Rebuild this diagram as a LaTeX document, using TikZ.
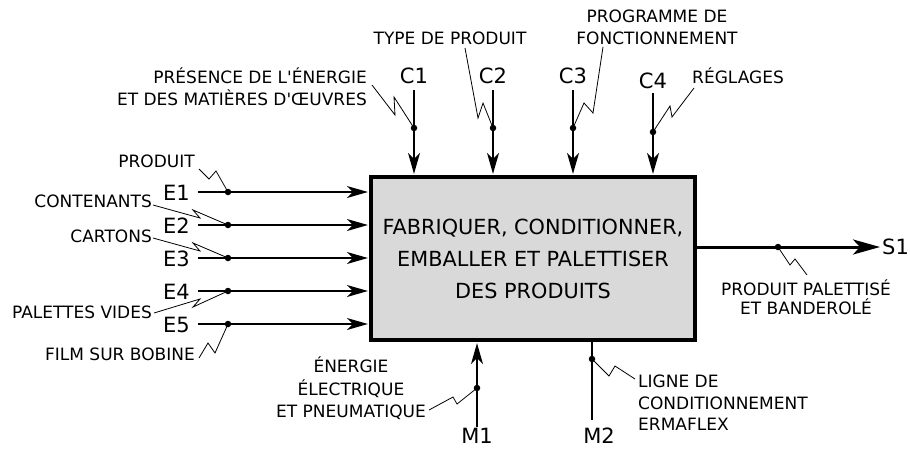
\documentclass[tikz,border=0pt]{standalone}
\usepackage{fontspec}
\setmainfont{DejaVu Sans}[Ligatures=TeXOff]
\usetikzlibrary{arrows.meta}
\begin{document}
\begin{tikzpicture}[x=1pt,y=-1pt,
  lbl/.style={font=\fontsize{17}{21}\selectfont, inner sep=0pt},
  icom/.style={font=\fontsize{21}{24}\selectfont, inner sep=0pt},
  arr/.style={line width=1.6pt, -{Stealth[length=21pt,width=12pt,inset=6pt]}, shorten >=1.5pt},
  outarr/.style={line width=3pt, -{Stealth[length=27pt,width=15pt,inset=7pt]}},
  sq/.style={line width=0.8pt, line join=miter},
  pt/.style={circle, fill=black, inner sep=0pt, minimum size=6.5pt},
  box/.style={draw, line width=3.2pt, fill=black!15, minimum width=324pt, minimum height=163pt,
    font=\fontsize{20.8}{32}\selectfont, align=center, inner sep=0pt}]
\useasboundingbox (0,0) rectangle (910,448);

% activity box
\node[box] (P) at (533,258.5) {FABRIQUER, CONDITIONNER,\\EMBALLER ET PALETTISER\\DES PRODUITS};

% inputs
\foreach \i/\y in {1/192,2/225,3/258,4/291,5/324} {
  \node[icom, anchor=base east] (E\i) at (190,\y+8.5) {E\i};
  \coordinate (e\i) at (198,\y);
  \draw[arr] (e\i) -- (e\i -| P.west);
  \node[pt] (de\i) at (228,\y) {};
}

% controls
\foreach \i/\x/\t/\d/\b in {1/414/90/128/83, 2/493/90/128/83, 3/573/90/128/83, 4/653/93/132/88} {
  \node[icom, anchor=base] (C\i) at (\x,\b) {C\i};
  \coordinate (c\i) at (\x,\t);
  \draw[arr] (c\i) -- (c\i |- P.north);
  \node[pt] (dc\i) at (\x,\d) {};
}

% mechanisms
\node[icom, anchor=base] (M1) at (477,443) {M1};
\node[icom, anchor=base] (M2) at (599,443) {M2};
\coordinate (m1) at (477,427);
\coordinate (m2) at (592,420);
\draw[arr] (m1) -- (m1 |- P.south);
\draw[line width=1.6pt] (P.south -| m2) -- (m2);
\node[pt] (dm1) at (477,388) {};
\node[pt] (dm2) at (592,359) {};

% output
\coordinate (s1) at (880,247);
\draw[outarr] (P.east |- s1) -- (s1);
\node[icom, anchor=base west] (S1) at (882,254) {S1};
\node[pt] (ds1) at (778,247) {};

% labels of inputs
\node[lbl, anchor=base east] (lprod) at (195,167) {PRODUIT};
\node[lbl, anchor=base east] (lcont) at (152,207) {CONTENANTS};
\node[lbl, anchor=base east] (lcart) at (152,242) {CARTONS};
\node[lbl, anchor=base east] (lpal) at (152,318) {PALETTES VIDES};
\node[lbl, anchor=base east] (lfilm) at (195,360) {FILM SUR BOBINE};

\draw[sq] ([shift={(4,2)}]lprod.base east) -- (209,179) -- (216,171) -- (de1.center);
\draw[sq] ([shift={(1,-2)}]lcont.base east) -- (200,218) -- (193,210) -- (de2.center);
\draw[sq] ([shift={(1,-4)}]lcart.base east) -- (200,251) -- (193,243) -- (de3.center);
\draw[sq] ([shift={(2,-5)}]lpal.base east) -- (200,299) -- (193,307) -- (de4.center);
\draw[sq] ([shift={(4,-2)}]lfilm.base east) -- (208,343) -- (215,353) -- (de5.center);

% labels of controls
\node[lbl, anchor=base east] (pres1) at (367,83) {PRÉSENCE DE L\char"27 ÉNERGIE};
\node[lbl, anchor=base east] (pres2) at (367,105) {ET DES MATIÈRES D\char"27 ŒUVRES};
\node[lbl, anchor=base] (type) at (450,44) {TYPE DE PRODUIT};
\node[lbl, anchor=base] (prog1) at (657,22) {PROGRAMME DE};
\node[lbl, anchor=base] (prog2) at (657,44) {FONCTIONNEMENT};
\node[lbl, anchor=base west] (regl) at (692,83) {RÉGLAGES};

\draw[sq] ([shift={(5,2)}]pres1.base east) -- (395,115) -- (394,97) -- (dc1.center);
\draw[sq] ([shift={(15,4)}]type.base) -- (478,118) -- (483,103) -- (dc2.center);
\draw[sq] ([shift={(-54,3)}]prog2.base) -- (593,113) -- (584,103) -- (dc3.center);
\draw[sq] ([shift={(2,5)}]regl.base west) -- (672,117) -- (670,106) -- (dc4.center);

% labels of mechanisms
\node[lbl, anchor=base] (en1) at (351,372) {ÉNERGIE};
\node[lbl, anchor=base] (en2) at (351,395) {ÉLECTRIQUE};
\node[lbl, anchor=base] (en3) at (351,417) {ET PNEUMATIQUE};
\node[lbl, anchor=base west] (lig1) at (638,387) {LIGNE DE};
\node[lbl, anchor=base west] (lig2) at (638,409) {CONDITIONNEMENT};
\node[lbl, anchor=base west] (lig3) at (638,430) {ERMAFLEX};

\draw[sq] ([shift={(3,-7)}]en3.base east) -- (453,397) -- (457,404) -- (dm1.center);
\draw[sq] (dm2.center) -- (609,376) -- (615,366) -- ([shift={(-3,-8)}]lig1.base west);

% label of output
\node[lbl, anchor=base] (pp1) at (806,295) {PRODUIT PALETTISÉ};
\node[lbl, anchor=base] (pp2) at (806,314) {ET BANDEROLÉ};
\draw[sq] (ds1.center) -- (790,265) -- (795,259) -- ([shift={(1,-20)}]pp1.base);
\end{tikzpicture}
\end{document}
